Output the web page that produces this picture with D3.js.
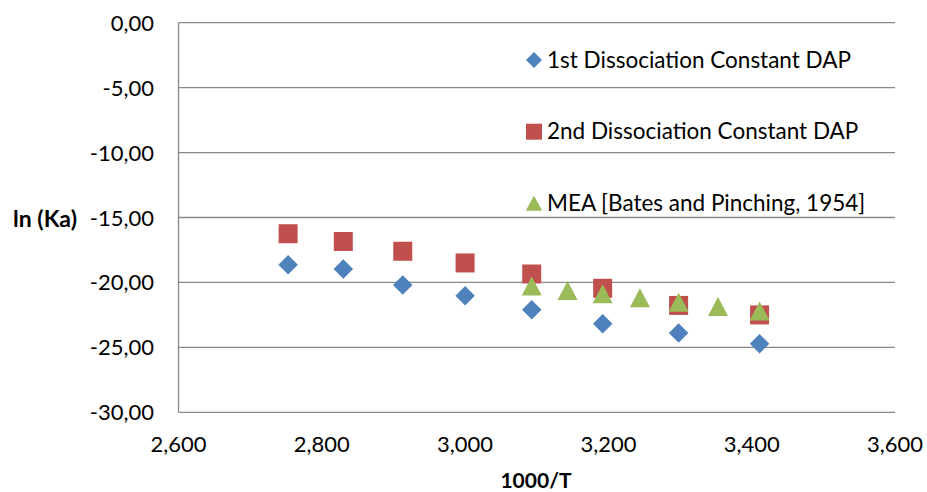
<!DOCTYPE html>
<html>
<head>
<meta charset="utf-8">
<script src="https://cdn.jsdelivr.net/npm/d3@7"></script>
<style>
  body { margin: 0; background: #fff; }
  svg { display: block; font-family: Lato, "Open Sans", sans-serif; }
</style>
</head>
<body>
<svg id="chart" width="927" height="492"></svg>
<script>
"use strict";

/********/
/* data */
/********/

const seriesNames = [
  "1st Dissociation Constant DAP",
  "2nd Dissociation Constant DAP",
  "MEA [Bates and Pinching, 1954]",
];

const dapInvT = [2.753, 2.830, 2.913, 3.000, 3.093, 3.192, 3.298, 3.411];
const dapFirst = [-18.64, -18.97, -20.2, -21.02, -22.1, -23.18, -23.9, -24.72];
const dapSecond = [-16.25, -16.85, -17.6, -18.5, -19.35, -20.45, -21.77, -22.5];

const meaInvT = [3.093, 3.143, 3.192, 3.244, 3.298, 3.353, 3.411];
const meaLnKa = [-20.28, -20.62, -20.88, -21.18, -21.52, -21.85, -22.2];

const xTicks = [2.6, 2.8, 3.0, 3.2, 3.4, 3.6];
const yTicks = [0, -5, -10, -15, -20, -25, -30];

const colours = ["#4f81bd", "#c0504d", "#9bbb59"];

/*********/
/* setup */
/*********/

const svg = d3.select("#chart");

const plot = { left: 178.5, right: 895, top: 22.7, bottom: 412.3 };

const x = d3.scaleLinear().domain([2.6, 3.6]).range([plot.left, plot.right]);
const y = d3.scaleLinear().domain([0, -30]).range([plot.top, plot.bottom]);

const locale = d3.formatLocale({
  decimal: ",",
  thousands: ".",
  grouping: [3],
  currency: ["", ""],
  minus: "-",
});
const fmtX = locale.format(".3f");
const fmtY = locale.format(".2f");

const gridColour = "#888888";

/********/
/* axes */
/********/

svg
  .append("g")
  .selectAll("line")
  .data(yTicks)
  .join("line")
  .attr("x1", plot.left)
  .attr("x2", plot.right)
  .attr("y1", d => y(d))
  .attr("y2", d => y(d))
  .attr("stroke", gridColour)
  .attr("stroke-width", 1.3);

svg
  .append("line")
  .attr("x1", plot.left)
  .attr("x2", plot.left)
  .attr("y1", plot.top)
  .attr("y2", plot.bottom)
  .attr("stroke", gridColour)
  .attr("stroke-width", 1.3);

svg
  .append("g")
  .selectAll("text")
  .data(yTicks)
  .join("text")
  .attr("x", 154)
  .attr("y", d => y(d) + 8)
  .attr("text-anchor", "end")
  .attr("font-size", "22px")
  .attr("fill", "#000")
  .text(d => fmtY(d));

svg
  .append("g")
  .selectAll("text")
  .data(xTicks)
  .join("text")
  .attr("x", d => x(d))
  .attr("y", 452)
  .attr("text-anchor", "middle")
  .attr("font-size", "22px")
  .attr("fill", "#000")
  .text(d => fmtX(d));

svg
  .append("text")
  .attr("x", 45)
  .attr("y", 227)
  .attr("text-anchor", "middle")
  .attr("font-size", "23px")
  .attr("font-weight", "bold")
  .text("ln (Ka)");

svg
  .append("text")
  .attr("x", 536)
  .attr("y", 488)
  .attr("text-anchor", "middle")
  .attr("font-size", "21px")
  .attr("font-weight", "bold")
  .text("1000/T");

/***********/
/* markers */
/***********/

function diamondPath(size) {
  const h = size / 2;
  return `M0,${-h}L${h},0L0,${h}L${-h},0Z`;
}

function squarePath(size) {
  const h = size / 2;
  return `M${-h},${-h}H${h}V${h}H${-h}Z`;
}

function trianglePath(w, hgt) {
  return `M0,${-hgt / 2}L${w / 2},${hgt / 2}L${-w / 2},${hgt / 2}Z`;
}

const shapes = [
  () => diamondPath(19.5),
  () => squarePath(19),
  () => trianglePath(20, 19),
];

const series = [
  dapInvT.map((v, i) => ({ x: v, y: dapFirst[i] })),
  dapInvT.map((v, i) => ({ x: v, y: dapSecond[i] })),
  meaInvT.map((v, i) => ({ x: v, y: meaLnKa[i] })),
];

series.forEach(function(points, s) {
  svg
    .append("g")
    .selectAll("path")
    .data(points)
    .join("path")
    .attr("d", shapes[s]())
    .attr("transform", d => `translate(${x(d.x)},${y(d.y)})`)
    .attr("fill", colours[s]);
});

/**********/
/* legend */
/**********/

const legendShapes = [
  () => diamondPath(16),
  () => squarePath(16),
  () => trianglePath(16.5, 15),
];
const legendRows = [60, 131.7, 203.3];

const legend = svg.append("g");
seriesNames.forEach(function(name, i) {
  legend
    .append("path")
    .attr("d", legendShapes[i]())
    .attr("transform", `translate(534,${legendRows[i]})`)
    .attr("fill", colours[i]);
  legend
    .append("text")
    .attr("x", 547)
    .attr("y", legendRows[i] + 7.5)
    .attr("font-size", "22.5px")
    .attr("fill", "#000")
    .text(name);
});
</script>
</body>
</html>
